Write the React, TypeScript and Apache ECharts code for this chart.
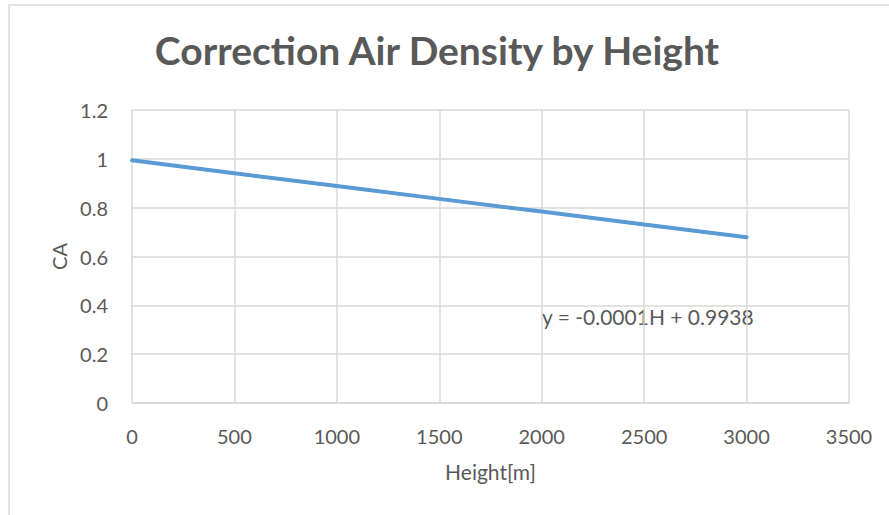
import React, { useEffect, useRef } from "react";
import * as echarts from "echarts";

const heights = [0, 500, 1000, 1500, 2000, 2500, 3000];
const caValues = [0.994, 0.941, 0.889, 0.836, 0.784, 0.731, 0.679];
const titleText = "Correction Air Density by Height";
const xAxisName = "Height[m]";
const yAxisName = "CA";
const trendLabel = "y = -0.0001H + 0.9938";

const FONT = "Lato, 'Open Sans', sans-serif";
const TEXT = "#595959";
const GRID = "#d9d9d9";

export default function App() {
  const ref = useRef<HTMLDivElement>(null);

  useEffect(() => {
    if (!ref.current) return;
    const chart = echarts.init(ref.current, undefined, { renderer: "svg" });
    chart.setOption({
      animation: false,
      backgroundColor: "#ffffff",
      textStyle: { fontFamily: FONT },
      title: {
        text: titleText,
        left: 432,
        top: 25,
        textAlign: "center",
        textStyle: { fontFamily: FONT, fontSize: 39, fontWeight: "bold", color: TEXT },
      },
      grid: { left: 132, right: 40, top: 110, bottom: 112 },
      xAxis: {
        type: "value",
        min: 0,
        max: 3500,
        interval: 500,
        name: xAxisName,
        nameLocation: "middle",
        nameGap: 58,
        nameTextStyle: { fontFamily: FONT, fontSize: 21, color: TEXT },
        axisLine: { show: true, lineStyle: { color: GRID, width: 1.5 } },
        axisTick: { show: false },
        axisLabel: {
          margin: 23,
          fontFamily: FONT,
          fontSize: 20,
          color: TEXT,
          formatter: (v: number) => String(v),
        },
        splitLine: { show: true, lineStyle: { color: GRID, width: 1.5 } },
      },
      yAxis: {
        type: "value",
        min: 0,
        max: 1.2,
        interval: 0.2,
        name: yAxisName,
        nameLocation: "middle",
        nameGap: 59,
        nameTextStyle: { fontFamily: FONT, fontSize: 20, color: TEXT },
        axisLine: { show: false },
        axisTick: { show: false },
        axisLabel: { margin: 24, fontFamily: FONT, fontSize: 20, color: TEXT },
        splitLine: { show: true, lineStyle: { color: GRID, width: 1.5 } },
      },
      graphic: [
        {
          type: "rect",
          shape: { x: 9, y: 5, width: 900, height: 600 },
          style: { fill: "none", stroke: GRID, lineWidth: 1.5 },
          silent: true,
        },
        {
          type: "text",
          left: 542,
          top: 306,
          style: { text: trendLabel, fontFamily: FONT, fontSize: 21, fill: TEXT },
        },
      ],
      series: [
        {
          type: "line",
          data: heights.map((h, i) => [h, caValues[i]]),
          showSymbol: false,
          lineStyle: { color: "#5b9bd5", width: 4, cap: "round" },
        },
      ],
    });
    return () => chart.dispose();
  }, []);

  return (
    <div
      ref={ref}
      style={{ position: "absolute", left: 0, top: 0, width: 889, height: 515 }}
    />
  );
}
